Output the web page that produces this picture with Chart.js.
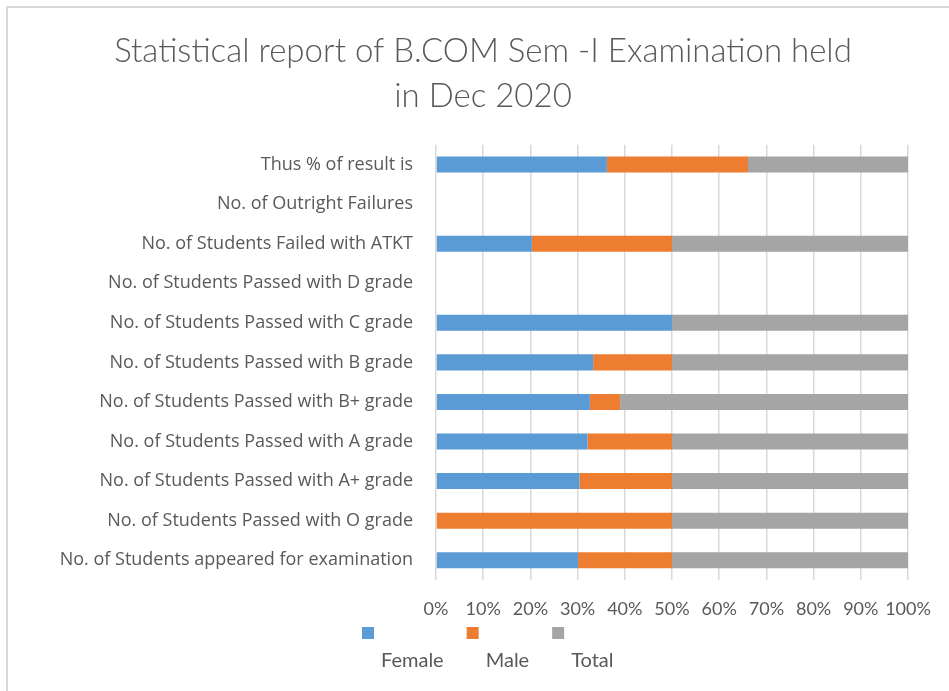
<!DOCTYPE html>
<html>
<head>
<meta charset="utf-8">
<script src="https://cdn.jsdelivr.net/npm/chart.js@4"></script>
<style>
  html, body { margin: 0; padding: 0; background: #fff; overflow: hidden; }
  .frame {
    position: absolute; left: 6px; top: 6px; width: 1000px; height: 800px;
    border-left: 2px solid #d9d9d9; border-top: 2px solid #d9d9d9;
  }
  #chart { position: absolute; left: 0; top: 0; }
</style>
</head>
<body>
<div class="frame"></div>
<canvas id="chart" width="949" height="691"></canvas>
<script>
const categories = [
  "Thus % of result is",
  "No. of Outright Failures",
  "No. of Students Failed with ATKT",
  "No. of Students Passed with D grade",
  "No. of Students Passed with C grade",
  "No. of Students Passed with B grade",
  "No. of Students Passed with B+ grade",
  "No. of Students Passed with A grade",
  "No. of Students Passed with A+ grade",
  "No. of Students Passed with O grade",
  "No. of Students appeared for examination"
];
// shares in %
const female = [36.2, 0, 20.3, 0, 50, 33.3, 32.6, 32.1, 30.4, 0, 30.1];
const male   = [29.9, 0, 29.7, 0, 0, 16.7, 6.4, 17.9, 19.6, 50, 19.9];
const total  = [33.9, 0, 50, 0, 50, 50, 61.0, 50, 50, 50, 50];
const xTicks = [0, 10, 20, 30, 40, 50, 60, 70, 80, 90, 100];

const FONT = "Lato, 'Open Sans', sans-serif";
const LABEL_FONT = "'Open Sans', Lato, sans-serif";
const TEXT = "#595959";

// Excel style legend: swatch on one row, names on the row below
const legendBelow = {
  id: "legendBelow",
  afterDraw(chart) {
    const ctx = chart.ctx;
    ctx.save();
    ctx.font = "20px " + FONT;
    ctx.textBaseline = "middle";
    let x = 362;
    chart.data.datasets.forEach(ds => {
      ctx.fillStyle = ds.backgroundColor;
      ctx.fillRect(x, 627, 12, 12);
      ctx.fillStyle = TEXT;
      ctx.fillText(ds.label, x + 19, 661);
      x += 19 + ctx.measureText(ds.label).width + 23;
    });
    ctx.restore();
  }
};

new Chart(document.getElementById("chart"), {
  type: "bar",
  data: {
    labels: categories,
    datasets: [
      { label: "Female", data: female, backgroundColor: "#5B9BD5" },
      { label: "Male", data: male, backgroundColor: "#ED7D31" },
      { label: "Total", data: total, backgroundColor: "#A5A5A5" }
    ]
  },
  options: {
    indexAxis: "y",
    responsive: false,
    animation: false,
    categoryPercentage: 1,
    barPercentage: 0.405,
    layout: { padding: { left: 58, right: 41, top: 0, bottom: 0 } },
    plugins: {
      legend: { display: false },
      tooltip: { enabled: false },
      title: {
        display: true,
        text: ["Statistical report of B.COM Sem -I Examination held", "in Dec 2020"],
        color: TEXT,
        font: { family: FONT, size: 33, weight: "300", lineHeight: 1.36 },
        padding: { top: 29, bottom: 26 }
      }
    },
    scales: {
      x: {
        stacked: true,
        min: 0,
        max: 100,
        afterBuildTicks(scale) { scale.ticks = xTicks.map(v => ({ value: v })); },
        afterFit(scale) { scale.height = 111; },
        ticks: {
          color: TEXT,
          font: { family: FONT, size: 18 },
          padding: 18,
          maxRotation: 0,
          autoSkip: false,
          callback: v => v + "%"
        },
        grid: { color: "#d9d9d9", lineWidth: 1.5, drawTicks: false },
        border: { display: false }
      },
      y: {
        stacked: true,
        afterFit(scale) { scale.width = 378; },
        ticks: {
          color: TEXT,
          font: { family: LABEL_FONT, size: 18 },
          padding: 23,
          autoSkip: false
        },
        grid: { display: false, drawTicks: false },
        border: { display: false }
      }
    }
  },
  plugins: [legendBelow]
});
</script>
</body>
</html>
